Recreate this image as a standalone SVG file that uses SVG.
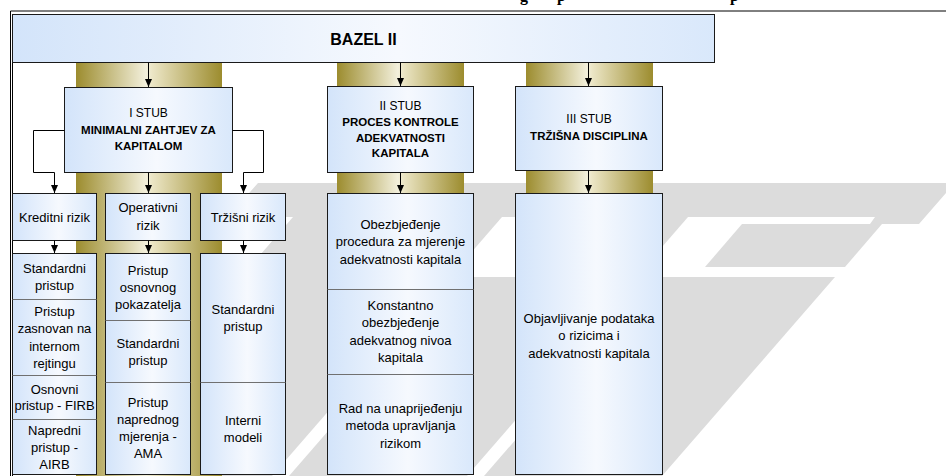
<svg xmlns="http://www.w3.org/2000/svg" width="946" height="476" viewBox="0 0 946 476">
<defs>
<linearGradient id="blue" x1="0" y1="0" x2="1" y2="0">
<stop offset="0" stop-color="#d3e4fa"/>
<stop offset="0.55" stop-color="#f6f9fe"/>
<stop offset="1" stop-color="#d9e8fb"/>
</linearGradient>
<linearGradient id="gold" x1="0" y1="0" x2="1" y2="0">
<stop offset="0" stop-color="#9c8c2e"/>
<stop offset="0.48" stop-color="#f3f0dc"/>
<stop offset="0.52" stop-color="#ece6c6"/>
<stop offset="1" stop-color="#9c8c2e"/>
</linearGradient>
<marker id="arr" markerUnits="userSpaceOnUse" markerWidth="8" markerHeight="8" viewBox="0 0 8 8" refX="8" refY="4" orient="auto">
<path d="M0,0.5 L8,4 L0,7.5 z" fill="#000"/>
</marker>
<style>
.box{fill:url(#blue);stroke:#1a1a1a;stroke-width:1}
.div{stroke:#707070;stroke-width:1;fill:none}
.pil{fill:url(#gold)}
.wm{fill:#dcdcdc}
.t{font-family:"Liberation Sans",Arial,sans-serif;font-size:13px;text-anchor:middle;fill:#000}
.h{font-size:11.5px}
.s{font-size:12px}
.b{font-weight:bold}
.ttl{font-family:"Liberation Serif","Times New Roman",serif;font-weight:bold;font-size:16px;fill:#000}
.con{fill:none;stroke:#000;stroke-width:1;marker-end:url(#arr)}
.ln{fill:none;stroke:#000;stroke-width:1}
</style>
</defs>
<rect width="946" height="476" fill="#fff"/>
<g id="watermark">
<polygon class="wm" points="258,183 946,183 946,193 919,224 870,224 875,217 228,217"/>
<polygon class="wm" points="742,224 882,224 845,267 705,267"/>
<polygon class="wm" points="293,217 502,217 450,277 241,277"/>
<polygon class="wm" points="580,217 688,217 636,277 528,277"/>
<polygon class="wm" points="657,277 835,277 662,476 484,476"/>
<polygon class="wm" points="462,277 640,277 467,476 289,476"/>
<polygon class="wm" points="267,277 445,277 272,476 94,476"/>
</g>
<g id="title-fragment">
<text class="ttl" x="520" y="1">g</text>
<text class="ttl" x="557" y="1">p</text>
<text class="ttl" x="730" y="1">p</text>
</g>
<g id="frame">
<path class="ln" d="M10.5,476 V11 H946" stroke-width="2"/>
<path class="ln" d="M12.5,476 V14"/>
</g>
<g id="pillars">
<rect class="pil" x="76" y="62" width="146" height="414"/>
<rect class="pil" x="337" y="62" width="127" height="140"/>
<rect class="pil" x="526" y="62" width="127" height="140"/>
</g>
<g id="bazel">
<rect class="box" x="12.5" y="14.5" width="702" height="48"/>
<text class="t b" x="363.5" y="44.5" style="font-size:16px">BAZEL II</text>
</g>
<g id="stub1">
<rect class="box" x="64.5" y="87.5" width="168" height="85"/>
<text class="t s" x="148.5" y="117">I STUB</text>
<text class="t h b" x="148.5" y="133.5">MINIMALNI ZAHTJEV ZA</text>
<text class="t h b" x="148.5" y="149.5">KAPITALOM</text>
</g>
<g id="stub2">
<rect class="box" x="327.5" y="86.5" width="146" height="86"/>
<text class="t s" x="400.5" y="110">II STUB</text>
<text class="t h b" x="400.5" y="126">PROCES KONTROLE</text>
<text class="t h b" x="400.5" y="141.5">ADEKVATNOSTI</text>
<text class="t h b" x="400.5" y="157">KAPITALA</text>
</g>
<g id="stub3">
<rect class="box" x="515.5" y="86.5" width="147" height="84"/>
<text class="t s" x="589" y="123">III STUB</text>
<text class="t h b" x="589" y="140">TRŽIŠNA DISCIPLINA</text>
</g>
<g id="kreditni-rizik">
<rect class="box" x="12.5" y="193.5" width="84" height="47"/>
<text class="t" x="54.5" y="221.5">Kreditni rizik</text>
</g>
<g id="operativni-rizik">
<rect class="box" x="105.5" y="193.5" width="85" height="47"/>
<text class="t" x="148" y="211.5">Operativni</text>
<text class="t" x="148" y="229.5">rizik</text>
</g>
<g id="trzisni-rizik">
<rect class="box" x="200.5" y="193.5" width="85" height="47"/>
<text class="t" x="243" y="221.5">Tržišni rizik</text>
</g>
<g id="kreditni-pristupi">
<rect class="box" x="12.5" y="253.5" width="84" height="221"/>
<path class="div" d="M12.5,299.5 H96.5 M12.5,375.5 H96.5 M12.5,419.5 H96.5"/>
<text class="t" x="54.5" y="272.5">Standardni</text>
<text class="t" x="54.5" y="289.5">pristup</text>
<text class="t" x="54.5" y="315.5">Pristup</text>
<text class="t" x="54.5" y="332.5">zasnovan na</text>
<text class="t" x="54.5" y="350.5">internom</text>
<text class="t" x="54.5" y="367.5">rejtingu</text>
<text class="t" x="54.5" y="393.5">Osnovni</text>
<text class="t" x="54.5" y="410">pristup - FIRB</text>
<text class="t" x="54.5" y="434.5">Napredni</text>
<text class="t" x="54.5" y="451.5">pristup -</text>
<text class="t" x="54.5" y="468.5">AIRB</text>
</g>
<g id="operativni-pristupi">
<rect class="box" x="105.5" y="253.5" width="85" height="221"/>
<path class="div" d="M105.5,320.5 H190.5 M105.5,382.5 H190.5"/>
<text class="t" x="148" y="274.5">Pristup</text>
<text class="t" x="148" y="291.5">osnovnog</text>
<text class="t" x="148" y="308.5">pokazatelja</text>
<text class="t" x="148" y="347.5">Standardni</text>
<text class="t" x="148" y="364.5">pristup</text>
<text class="t" x="148" y="406.5">Pristup</text>
<text class="t" x="148" y="423.5">naprednog</text>
<text class="t" x="148" y="441">mjerenja -</text>
<text class="t" x="148" y="457.5">AMA</text>
</g>
<g id="trzisni-pristupi">
<rect class="box" x="200.5" y="253.5" width="85" height="221"/>
<path class="div" d="M200.5,382.5 H285.5"/>
<text class="t" x="243" y="313.5">Standardni</text>
<text class="t" x="243" y="331">pristup</text>
<text class="t" x="243" y="424.5">Interni</text>
<text class="t" x="243" y="441.5">modeli</text>
</g>
<g id="stub2-sadrzaj">
<rect class="box" x="327.5" y="193.5" width="146" height="281"/>
<path class="div" d="M327.5,289.5 H473.5 M327.5,374.5 H473.5"/>
<text class="t" x="400.5" y="228.5">Obezbjeđenje</text>
<text class="t" x="400.5" y="246">procedura za mjerenje</text>
<text class="t" x="400.5" y="263.5">adekvatnosti kapitala</text>
<text class="t" x="400.5" y="309.5">Konstantno</text>
<text class="t" x="400.5" y="327">obezbjeđenje</text>
<text class="t" x="400.5" y="344.5">adekvatnog nivoa</text>
<text class="t" x="400.5" y="362">kapitala</text>
<text class="t" x="400.5" y="412.5">Rad na unaprijeđenju</text>
<text class="t" x="400.5" y="430">metoda upravljanja</text>
<text class="t" x="400.5" y="447.5">rizikom</text>
</g>
<g id="stub3-sadrzaj">
<rect class="box" x="515.5" y="193.5" width="147" height="281"/>
<text class="t" x="589" y="322.5">Objavljivanje podataka</text>
<text class="t" x="589" y="340">o rizicima i</text>
<text class="t" x="589" y="357.5">adekvatnosti kapitala</text>
</g>
<g id="connectors">
<path class="con" d="M148.5,62.5 V87"/>
<path class="con" d="M400.5,62.5 V86"/>
<path class="con" d="M588.5,62.5 V86"/>
<path class="con" d="M148.5,172.5 V193"/>
<path class="con" d="M64.5,130.5 H33.5 V172.5 H54.5 V193"/>
<path class="con" d="M232.5,130.5 H263.5 V172.5 H243.5 V193"/>
<path class="con" d="M400.5,172.5 V193"/>
<path class="con" d="M588.5,170.5 V193"/>
<path class="con" d="M54.5,240.5 V253"/>
<path class="con" d="M148.5,240.5 V253"/>
<path class="con" d="M243.5,240.5 V253"/>
</g>
</svg>
